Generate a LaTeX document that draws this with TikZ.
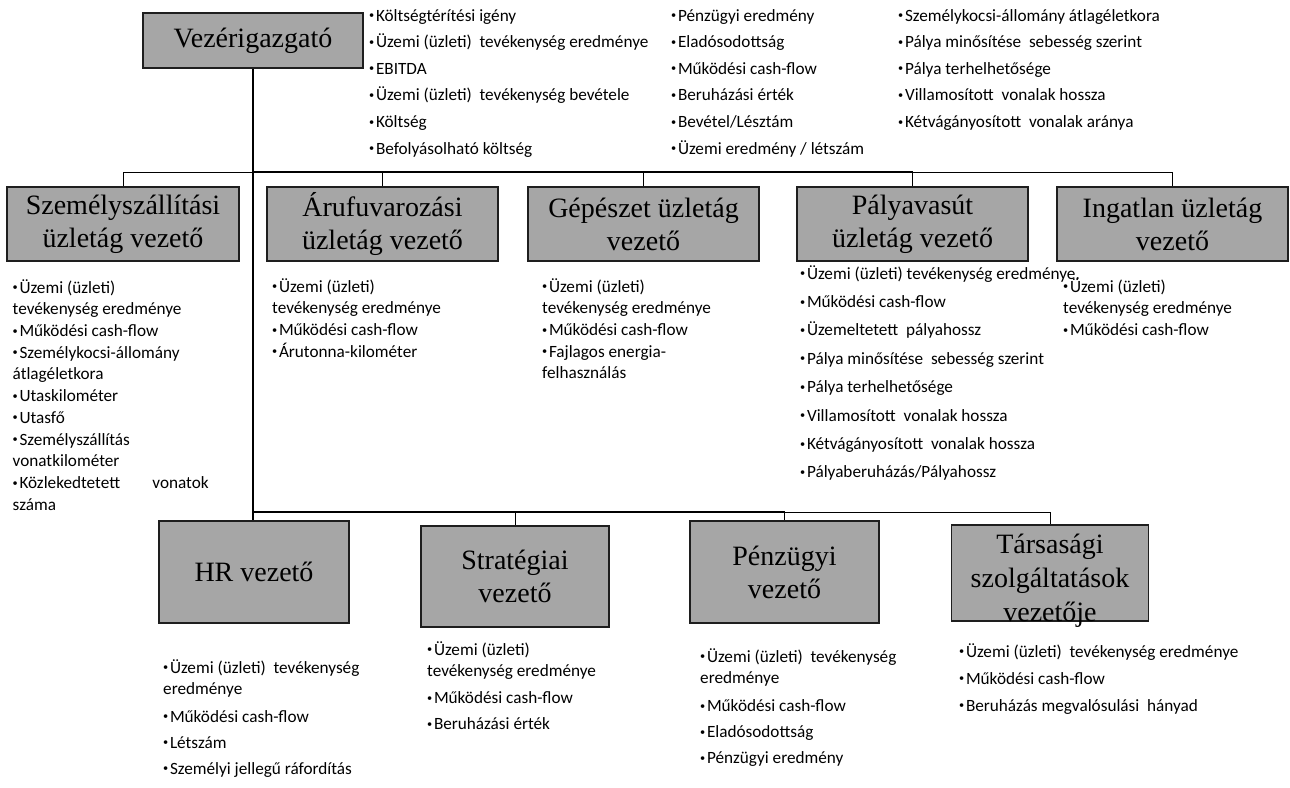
\documentclass[tikz,border=0pt]{standalone}
\usepackage{fontspec}
\usepackage{graphicx}
\setmainfont{Carlito}
\newfontfamily\titlefont{Liberation Serif}
\definecolor{boxgray}{RGB}{166,166,166}
\definecolor{edge}{RGB}{30,30,30}
% small list bullet
\newcommand\lbul{\makebox[6.8pt][l]{\raisebox{2.4pt}{\scalebox{0.6}{•}}}}
\begin{document}
\begin{tikzpicture}[x=1pt,y=-1pt,
  box/.style={draw=edge, line width=1.2pt, fill=boxgray, inner sep=0pt,
    align=center, font=\titlefont\fontsize{28}{33}\selectfont},
  lst/.style={anchor=north west, inner sep=0pt, align=left,
    font=\fontsize{17.2}{21.7}\selectfont},
  trunk/.style={draw=black, line width=2pt},
  bus/.style={draw=black, line width=1.5pt},
  thin/.style={draw=black, line width=0.9pt}]
\useasboundingbox (0,0) rectangle (1290,787);

% --- boxes ---
\node[box, minimum width=220pt, minimum height=55pt] (ceo) at (253,40.5) {Vezérigazgató};

\node[box, minimum width=232pt, minimum height=74pt] (szem) at (123,224) {Személyszállítási\\üzletág vezető};
\node[box, minimum width=231pt, minimum height=74pt] (aru) at (382.5,224) {Árufuvarozási\\üzletág vezető};
\node[box, minimum width=231pt, minimum height=74pt] (gep) at (643.5,224) {Gépészet üzletág\\vezető};
\node[box, minimum width=231pt, minimum height=74pt] (palya) at (912.5,224) {Pályavasút\\üzletág vezető};
\node[box, minimum width=231pt, minimum height=74pt] (ingatlan) at (1172.5,224) {Ingatlan üzletág\\vezető};

\node[box, minimum width=190pt, minimum height=102pt] (hr) at (254,572) {HR vezető};
\node[box, minimum width=188pt, minimum height=101pt] (strat) at (515,576.5) {Stratégiai\\vezető};
\node[box, minimum width=189pt, minimum height=102pt] (penz) at (784.5,572) {Pénzügyi\\vezető};
% three lines that run past the lower edge of the box
\node[box, minimum width=197pt, minimum height=96pt] (tars) at (1050,573)
  {\raisebox{-14pt}[0pt][0pt]{\begin{tabular}{@{}c@{}}Társasági\\[1pt]szolgáltatások\\[1pt]vezetője\end{tabular}}};

% --- connectors ---
\coordinate (busA) at (253,172);
\coordinate (busB) at (253,512);
\draw[trunk] (ceo.south) -- (ceo.south |- hr.north);
\draw[thin] (busA -| szem) -- (busA);
\draw[bus] (busA) -- (busA -| palya);
\draw[thin] (busA -| palya) -- (busA -| ingatlan);
\foreach \n in {szem,aru,gep,palya,ingatlan}
  \draw[thin] (busA -| \n) -- (\n.north);
\draw[bus] (busB) -- (busB -| penz);
\draw[thin] (busB -| penz) -- (busB -| tars);
\foreach \n in {strat,penz,tars}
  \draw[thin] (busB -| \n) -- (\n.north);

% --- indicator lists ---
\node[lst] (l1) at (369,5.8) {\strut\lbul Költségtérítési igény\\[4.9pt]
  \lbul Üzemi (üzleti)\ \ tevékenység eredménye\\[4.9pt]
  \lbul EBITDA\\[4.9pt]
  \lbul Üzemi (üzleti)\ \ tevékenység bevétele\\[4.9pt]
  \lbul Költség\\[4.9pt]
  \lbul Befolyásolható költség};
\node[lst] (l2) at (671,5.8) {\strut\lbul Pénzügyi eredmény\\[4.9pt]
  \lbul Eladósodottság\\[4.9pt]
  \lbul Működési cash-flow\\[4.9pt]
  \lbul Beruházási érték\\[4.9pt]
  \lbul Bevétel/Lésztám\\[4.9pt]
  \lbul Üzemi eredmény / létszám};
\node[lst] (l3) at (898,5.8) {\strut\lbul Személykocsi-állomány átlagéletkora\\[4.9pt]
  \lbul Pálya minősítése\ \ sebesség szerint\\[4.9pt]
  \lbul Pálya terhelhetősége\\[4.9pt]
  \lbul Villamosított\ \ vonalak hossza\\[4.9pt]
  \lbul Kétvágányosított\ \ vonalak aránya};

\node[lst] (lszem) at (12.5,277.8) {\strut\lbul Üzemi (üzleti)\\
  tevékenység eredménye\\
  \lbul Működési cash-flow\\
  \lbul Személykocsi-állomány\\
  átlagéletkora\\
  \lbul Utaskilométer\\
  \lbul Utasfő\\
  \lbul Személyszállítás\\
  vonatkilométer\\
  \makebox[196pt][s]{\lbul Közlekedtetett vonatok}\\
  száma};
\node[lst] (laru) at (272,276.8) {\strut\lbul Üzemi (üzleti)\\
  tevékenység eredménye\\
  \lbul Működési cash-flow\\
  \lbul Árutonna-kilométer};
\node[lst] (lgep) at (542,276.8) {\strut\lbul Üzemi (üzleti)\\
  tevékenység eredménye\\
  \lbul Működési cash-flow\\
  \lbul Fajlagos energia-\\
  felhasználás};
\node[lst] (lpalya) at (800,263.8) {\strut\lbul Üzemi (üzleti) tevékenység eredménye.\\[6.7pt]
  \lbul Működési cash-flow\\[6.7pt]
  \lbul Üzemeltetett\ \ pályahossz\\[6.7pt]
  \lbul Pálya minősítése\ \ sebesség szerint\\[6.7pt]
  \lbul Pálya terhelhetősége\\[6.7pt]
  \lbul Villamosított\ \ vonalak hossza\\[6.7pt]
  \lbul Kétvágányosított\ \ vonalak hossza\\[6.7pt]
  \lbul Pályaberuházás/Pályahossz};
\node[lst] (lingatlan) at (1063,276.8) {\strut\lbul Üzemi (üzleti)\\
  tevékenység eredménye\\
  \lbul Működési cash-flow};

\node[lst] (lhr) at (163,657.8) {\strut\lbul Üzemi (üzleti)\ \ tevékenység\\
  eredménye\\[5.5pt]
  \lbul Működési cash-flow\\[4.5pt]
  \lbul Létszám\\[4pt]
  \lbul Személyi jellegű ráfordítás};
\node[lst] (lstrat) at (427,639.8) {\strut\lbul Üzemi (üzleti)\\
  tevékenység eredménye\\[5.3pt]
  \lbul Működési cash-flow\\[4.3pt]
  \lbul Beruházási érték};
\node[lst] (lpenz) at (700,646.8) {\strut\lbul Üzemi (üzleti)\ \ tevékenység\\
  eredménye\\[6.3pt]
  \lbul Működési cash-flow\\[4.3pt]
  \lbul Eladósodottság\\[4.3pt]
  \lbul Pénzügyi eredmény};
\node[lst] (ltars) at (959,641.8) {\strut\lbul Üzemi (üzleti)\ \ tevékenység eredménye\\[5.3pt]
  \lbul Működési cash-flow\\[5.3pt]
  \lbul Beruházás megvalósulási\ \ hányad};
\end{tikzpicture}
\end{document}
